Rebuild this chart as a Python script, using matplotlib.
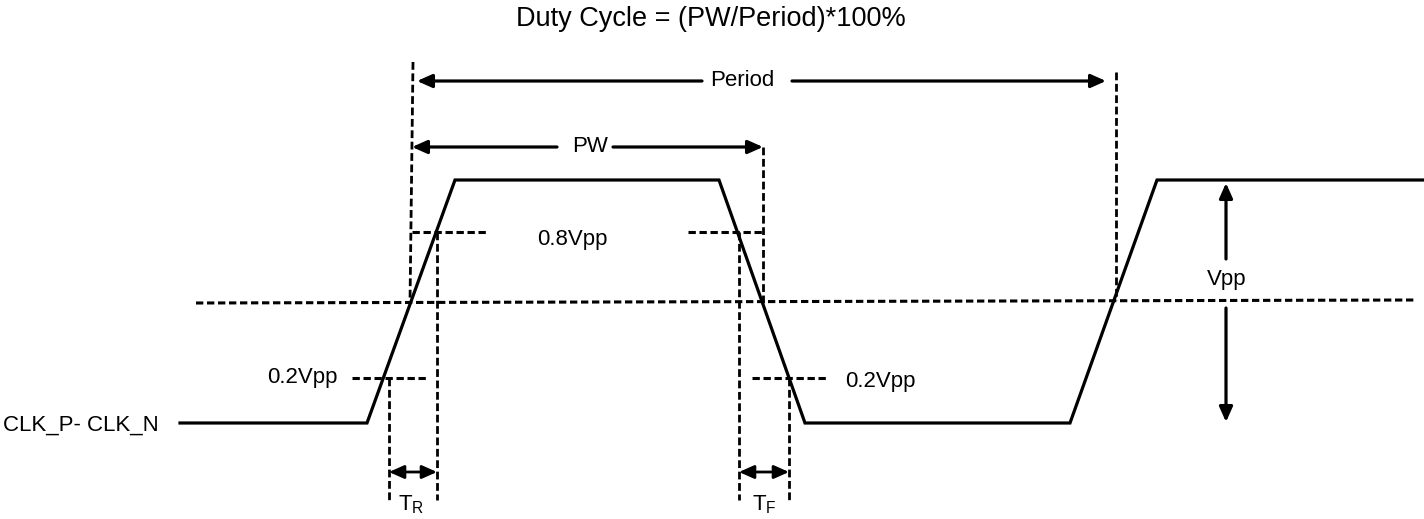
import matplotlib
matplotlib.use("Agg")
import matplotlib.pyplot as plt

plt.rcParams['font.family'] = ['Liberation Sans', 'DejaVu Sans']

# levels of the clock waveform (pixel rows, y grows downward)
low, high, mid = 423, 180, 302
lvl80, lvl20 = 232, 378

# waveform breakpoints
wave_x = [180, 367, 455, 719, 805, 1070, 1157, 1423]
wave_y = [low, low, high, high, low, low, high, high]

# dashed verticals: (x_top, x_bottom, y_top, y_bottom)
vlines = [(413, 410, 62, 303),
          (389, 389, lvl20, 500),
          (437, 437, lvl80, 500),
          (763, 763, 147, 303),
          (739, 739, lvl80, 500),
          (789, 789, lvl20, 500),
          (1116, 1116, 72, 300)]

# dashed horizontals: (x0, x1, y0, y1)
hlines = [(196, 1414, 303, 300),
          (412, 487, lvl80, lvl80),
          (688, 763, lvl80, lvl80),
          (352, 427, lvl20, lvl20),
          (752, 827, lvl20, lvl20)]

# single arrows: (x_from, y_from, x_to, y_to)
arrows = [(702, 81, 417, 81), (792, 81, 1106, 81),
          (557, 147, 412, 147), (613, 147, 763, 147),
          (1226, 259, 1226, 183), (1226, 308, 1226, 422)]
# double arrows for rise / fall time
darrows = [(389, 437, 472), (739, 789, 472)]

# labels: (text, x, y, size)
labels = [("Duty Cycle = (PW/Period)*100%", 711, 19, 19.5),
          ("Period", 742, 80, 16),
          ("PW", 590, 147, 16),
          ("0.8Vpp", 572, 239, 16),
          ("0.2Vpp", 302, 378, 16),
          ("0.2Vpp", 880, 381, 16),
          ("Vpp", 1227, 280, 16),
          (r"T$_\mathregular{R}$", 411, 505, 16),
          (r"T$_\mathregular{F}$", 764, 505, 16)]

fig = plt.figure(figsize=(14.24, 5.19), dpi=100)
ax = fig.add_axes([0, 0, 1, 1])
ax.set_xlim(0, 1424)
ax.set_ylim(519, 0)
ax.axis('off')

ax.plot(wave_x, wave_y, color='black', lw=2.3, solid_joinstyle='miter')

for x0, x1, y0, y1 in vlines:
    ax.plot([x0, x1], [y0, y1], color='black', lw=2.0, dashes=(2.8, 1.3))
for x0, x1, y0, y1 in hlines:
    ax.plot([x0, x1], [y0, y1], color='black', lw=2.2, dashes=(2.4, 1.2))

for xf, yf, xt, yt in arrows:
    ax.annotate("", xy=(xt, yt), xytext=(xf, yf),
                arrowprops=dict(arrowstyle='-|>,head_length=0.45,head_width=0.2',
                                color='black', lw=2.3, mutation_scale=20,
                                shrinkA=0, shrinkB=0))
for xa, xb, y in darrows:
    ax.annotate("", xy=(xb, y), xytext=(xa, y),
                arrowprops=dict(arrowstyle='<|-|>,head_length=0.45,head_width=0.2',
                                color='black', lw=2.0, mutation_scale=20,
                                shrinkA=0, shrinkB=0))

for txt, x, y, size in labels:
    ax.text(x, y, txt, fontsize=size, ha='center', va='center')
ax.text(3, 425, "CLK_P- CLK_N", fontsize=16, ha='left', va='center')

fig.savefig("out.png", dpi=100)
